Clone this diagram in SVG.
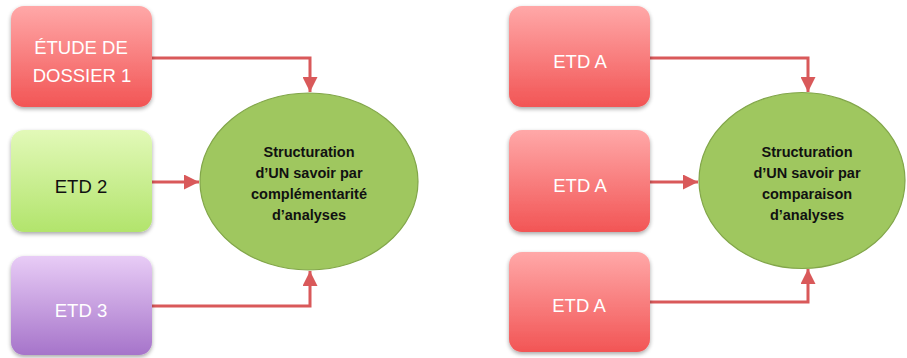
<svg xmlns="http://www.w3.org/2000/svg" width="907" height="358" viewBox="0 0 907 358">
<defs>
<linearGradient id="gRed" x1="0" y1="0" x2="0" y2="1">
<stop offset="0" stop-color="#ffa8a8"/>
<stop offset="1" stop-color="#f25555"/>
</linearGradient>
<linearGradient id="gGreen" x1="0" y1="0" x2="0" y2="1">
<stop offset="0" stop-color="#e2f9b8"/>
<stop offset="1" stop-color="#b2e46c"/>
</linearGradient>
<linearGradient id="gPurple" x1="0" y1="0" x2="0" y2="1">
<stop offset="0" stop-color="#e8ccf6"/>
<stop offset="1" stop-color="#a674ca"/>
</linearGradient>
<filter id="sh" x="-10%" y="-10%" width="125%" height="130%">
<feGaussianBlur in="SourceAlpha" stdDeviation="2"/>
<feOffset dx="0" dy="2" result="b"/>
<feComponentTransfer><feFuncA type="linear" slope="0.35"/></feComponentTransfer>
<feMerge><feMergeNode/><feMergeNode in="SourceGraphic"/></feMerge>
</filter>
<marker id="arr" viewBox="0 0 10 10" refX="10" refY="5" markerWidth="5.5" markerHeight="5" markerUnits="strokeWidth" orient="auto">
<path d="M0,0 L10,5 L0,10 Z" fill="#d9595a"/>
</marker>
</defs>
<style>
.box{filter:url(#sh)}
.lbl{font-family:"Liberation Sans",Arial,sans-serif;font-size:18.5px;text-anchor:middle}
.w{fill:#ffffff}
.k{fill:#111111}
.ell{fill:#9fc75f;stroke:#82a64a;stroke-width:1.2}
.et{font-family:"Liberation Sans",Arial,sans-serif;font-weight:bold;font-size:14.5px;fill:#111111;text-anchor:middle}
.con{fill:none;stroke:#d9595a;stroke-width:3;marker-end:url(#arr)}
</style>
<rect width="907" height="358" fill="#ffffff"/>
<g id="connectors">
<path class="con" d="M152,58 H310 V92"/>
<path class="con" d="M152,182 H199"/>
<path class="con" d="M152,306 H310 V271"/>
<path class="con" d="M650,58 H808 V92"/>
<path class="con" d="M650,182 H698"/>
<path class="con" d="M650,302 H808 V269"/>
</g>
<g id="n1">
<rect class="box" x="11" y="6" width="141" height="101" rx="13" fill="url(#gRed)"/>
<text class="lbl w" x="81" y="54">ÉTUDE DE</text>
<text class="lbl w" x="82" y="82">DOSSIER 1</text>
</g>
<g id="n2">
<rect class="box" x="11" y="130" width="141" height="102" rx="13" fill="url(#gGreen)"/>
<text class="lbl k" x="81" y="193">ETD 2</text>
</g>
<g id="n3">
<rect class="box" x="11" y="256" width="141" height="99" rx="13" fill="url(#gPurple)"/>
<text class="lbl w" x="81" y="317">ETD 3</text>
</g>
<g id="c1">
<ellipse class="ell" cx="309" cy="181.5" rx="109" ry="88.5"/>
<text class="et" x="309" y="157">Structuration</text>
<text class="et" x="309" y="178">d’UN savoir par</text>
<text class="et" x="309" y="199">complémentarité</text>
<text class="et" x="309" y="220">d’analyses</text>
</g>
<g id="n4">
<rect class="box" x="509" y="6" width="141" height="101" rx="13" fill="url(#gRed)"/>
<text class="lbl w" x="580" y="68">ETD A</text>
</g>
<g id="n5">
<rect class="box" x="509" y="130" width="141" height="102" rx="13" fill="url(#gRed)"/>
<text class="lbl w" x="580" y="192">ETD A</text>
</g>
<g id="n6">
<rect class="box" x="509" y="252" width="141" height="100" rx="13" fill="url(#gRed)"/>
<text class="lbl w" x="579" y="312">ETD A</text>
</g>
<g id="c2">
<ellipse class="ell" cx="802" cy="180.5" rx="103" ry="88"/>
<text class="et" x="807" y="157">Structuration</text>
<text class="et" x="807" y="178">d’UN savoir par</text>
<text class="et" x="807" y="199">comparaison</text>
<text class="et" x="807" y="220">d’analyses</text>
</g>
</svg>
